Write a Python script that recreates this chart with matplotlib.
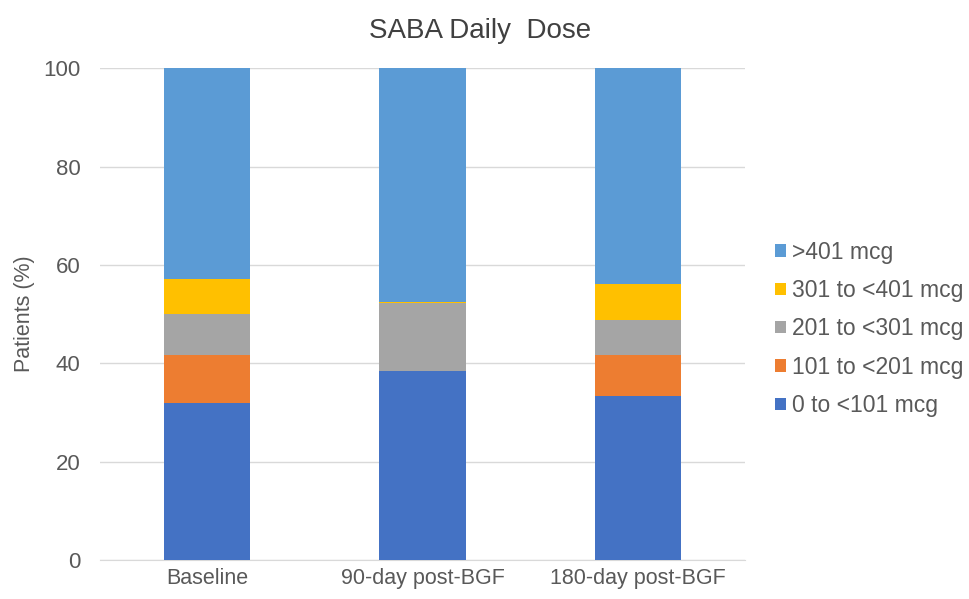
import numpy as np
import matplotlib.pyplot as plt

plt.rcParams['font.family'] = ['Liberation Sans', 'DejaVu Sans']

periods = ['Baseline', '90-day post-BGF', '180-day post-BGF']
doses = ['0 to <101 mcg', '101 to <201 mcg', '201 to <301 mcg',
         '301 to <401 mcg', '>401 mcg']
dose_0_100 = [32.0, 38.5, 33.3]
dose_101_200 = [9.7, 0.0, 8.4]
dose_201_300 = [8.4, 13.7, 7.2]
dose_301_400 = [7.0, 0.3, 7.2]
dose_401_up = [42.9, 47.5, 43.9]
colors = ['#4472C4', '#ED7D31', '#A5A5A5', '#FFC000', '#5B9BD5']

fig = plt.figure(figsize=(9.69, 5.99), dpi=100)
ax = fig.add_axes([0.103, 0.065, 0.666, 0.821])

x = np.arange(len(periods))
bottom = np.zeros(len(periods))
handles = []
for vals, lab, c in zip([dose_0_100, dose_101_200, dose_201_300, dose_301_400, dose_401_up],
                        doses, colors):
    b = ax.bar(x, vals, 0.4, bottom=bottom, color=c, label=lab, zorder=3)
    handles.append(b)
    bottom += np.array(vals)

ax.set_xlim(-0.5, 2.5)
ax.set_ylim(0, 100)
ax.set_yticks(range(0, 101, 20))
ax.set_xticks(x)
ax.set_xticklabels(periods)
ax.grid(axis='y', color='#D9D9D9', linewidth=1, zorder=0)
for s in ['top', 'right', 'left']:
    ax.spines[s].set_visible(False)
ax.spines['bottom'].set_color('#D9D9D9')
ax.tick_params(length=0, labelsize=15.5, colors='#595959')
ax.tick_params(axis='y', labelsize=16, pad=14)
ax.tick_params(axis='x', pad=6)
ax.set_ylabel('Patients (%)', fontsize=15.5, color='#595959', labelpad=6)
fig.text(0.495, 0.948, 'SABA Daily  Dose', fontsize=20, color='#404040',
         ha='center', va='center')

fig.legend(handles[::-1], doses[::-1], loc='center left',
           bbox_to_anchor=(0.80, 0.451), frameon=False, fontsize=16.5,
           borderaxespad=0, borderpad=0,
           handlelength=0.45, handleheight=0.45, handletextpad=0.3,
           labelspacing=0.67, labelcolor='#595959')

fig.savefig('out.png', dpi=100)
